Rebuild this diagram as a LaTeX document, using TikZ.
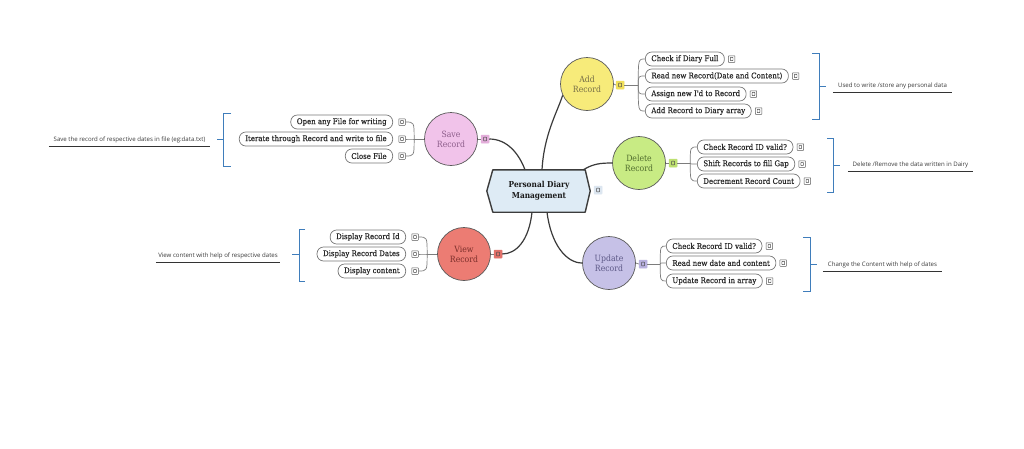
\documentclass[tikz,border=0pt]{standalone}
\usepackage{fontspec}
\setmainfont{DejaVu Serif Condensed}
\newfontfamily\leaffont{DejaVu Serif Condensed}[FakeBold=0.35]
\newfontfamily\notefont{Open Sans}
\usetikzlibrary{positioning,calc}

\definecolor{rootfill}{HTML}{DEEBF5}
\definecolor{rootline}{HTML}{3C3C3C}
\definecolor{addfill}{HTML}{F7EB7A}
\definecolor{addtext}{HTML}{746C46}
\definecolor{addico}{HTML}{F0DF5A}
\definecolor{delfill}{HTML}{C8EB84}
\definecolor{deltext}{HTML}{4E6B2C}
\definecolor{delico}{HTML}{BDE070}
\definecolor{updfill}{HTML}{C6C1E7}
\definecolor{updtext}{HTML}{5B5785}
\definecolor{updico}{HTML}{B8B0DF}
\definecolor{savefill}{HTML}{F1C3EA}
\definecolor{savetext}{HTML}{8B5C89}
\definecolor{saveico}{HTML}{E4AEDB}
\definecolor{viewfill}{HTML}{EC7C73}
\definecolor{viewtext}{HTML}{7A2E2A}
\definecolor{viewico}{HTML}{E2716A}
\definecolor{rootico}{HTML}{DCE6F0}
\definecolor{linedark}{HTML}{3A3A3A}
\definecolor{linegray}{HTML}{7C7C7C}
\definecolor{pillgray}{HTML}{777777}
\definecolor{textdark}{HTML}{2A2A2A}
\definecolor{brblue}{HTML}{3F7DBB}
\definecolor{notetext}{HTML}{3A3A3A}

\begin{document}
\begin{tikzpicture}[x=1pt,y=-1pt,
  mainline/.style={draw=linedark,line width=1.2pt},
  leafline/.style={draw=linegray,line width=.7pt},
  topic/.style={circle,draw=black!65,line width=.7pt,minimum size=53pt,inner sep=0pt,
    align=center,font=\fontsize{8.6}{10}\selectfont},
  pill/.style={draw=pillgray,line width=.7pt,rounded corners=6.5pt,minimum height=14pt,
    inner xsep=6pt,inner ysep=0pt,fill=white,text=textdark,font=\leaffont\fontsize{7.8}{9}\selectfont},
  leafico/.style={draw=black!65,line width=.5pt,rounded corners=.4pt,minimum size=6.5pt,inner sep=0pt,fill=white,
    path picture={\draw[black!70,line width=.45pt]
      ([xshift=-1.3pt,yshift=-1.6pt]path picture bounding box.center) rectangle
      ([xshift=1.3pt,yshift=1.6pt]path picture bounding box.center);}},
  topicico/.style={fill=#1,draw=#1,line width=.5pt,rounded corners=.6pt,minimum size=8pt,inner sep=0pt,
    path picture={\draw[black!70,line width=.5pt]
      ([xshift=-1.5pt,yshift=-1.8pt]path picture bounding box.center) rectangle
      ([xshift=1.5pt,yshift=1.8pt]path picture bounding box.center);}},
  bracket/.style={draw=brblue,line width=1pt},
  note/.style={font=\notefont\fontsize{6.1}{7}\selectfont,text=notetext,inner sep=0pt,minimum height=12pt},
  uline/.style={draw=black!80,line width=1.4pt}
]
\fill[white] (0,0) rectangle (1024,448);
\useasboundingbox (0,0) rectangle (1024,448);

% ---------- central topic (hexagon) ----------
\node[minimum width=92pt,minimum height=42pt,inner sep=0pt] (rootframe) at (539,191) {};
\filldraw[fill=rootfill,draw=rootline,line width=1.4pt,line join=round]
  (rootframe.north west) -- (rootframe.north east) -- ([xshift=5pt]rootframe.east)
  -- (rootframe.south east) -- (rootframe.south west) -- ([xshift=-6pt]rootframe.west) -- cycle;
\node[align=center,font=\bfseries\fontsize{8.2}{10.5}\selectfont,text=black!90] (root) at (rootframe.center)
  {Personal Diary\\Management};
\node[topicico=rootico] (rootI) at (598,190) {};

% ---------- main topics ----------
\node[topic,fill=addfill,text=addtext]   (aC) at (587,84)  {Add\\Record};
\node[topic,fill=delfill,text=deltext]   (dC) at (639,163) {Delete\\Record};
\node[topic,fill=updfill,text=updtext]   (uC) at (609,263) {Update\\Record};
\node[topic,fill=savefill,text=savetext] (sC) at (451,139) {Save\\Record};
\node[topic,fill=viewfill,text=viewtext] (vC) at (464,254) {View\\Record};

\node[topicico=addico]  (aI) at (620,85)  {};
\node[topicico=delico]  (dI) at (673,163) {};
\node[topicico=updico]  (uI) at (643,264) {};
\node[topicico=saveico] (sI) at (485,139) {};
\node[topicico=viewico] (vI) at (498,254) {};

% ---------- connectors from the central topic ----------
\coordinate (rSave) at ($(rootframe.north)+(-14,0)$);
\coordinate (rAdd)  at ($(rootframe.north)+(3,0)$);
\coordinate (rDel)  at ($(rootframe.north east)+(-2,0)$);
\coordinate (rView) at ($(rootframe.south)+(-7,0)$);
\coordinate (rUpd)  at ($(rootframe.south)+(8,0)$);
\draw[mainline] (sI.east) .. controls +(18,0) and +(-6,-16) .. (rSave);
\draw[mainline] (rAdd) .. controls +(2,-35) and +(-6,18) .. (aC.205);
\draw[mainline] (rDel) .. controls +(10,-6) and +(-12,0) .. (dC.west);
\draw[mainline] (rView) .. controls +(-3,28) and +(14,0) .. (vI.east);
\draw[mainline] (rUpd) .. controls +(4,32) and +(-16,0) .. (uC.west);

\draw[leafline] (aC.east) -- (aI.west);
\draw[leafline] (dC.east) -- (dI.west);
\draw[leafline] (uC.east) -- (uI.west);
\draw[leafline] (sC.east) -- (sI.west);
\draw[leafline] (vC.east) -- (vI.west);

% ---------- Add Record ----------
\node[pill,anchor=west] (a1) at (645,59)  {Check if Diary Full};
\node[pill,anchor=west] (a2) at (645,76)  {Read new Record(Date and Content)};
\node[pill,anchor=west] (a3) at (645,94)  {Assign new I'd to Record};
\node[pill,anchor=west] (a4) at (645,111) {Add Record to Diary array};
\foreach \i in {1,...,4}{\node[leafico,right=3.5pt of a\i] (a\i i) {};}
\coordinate (aJ) at ([xshift=14pt]aI.east);
\draw[leafline] (aI.east) -- (aJ);
\foreach \i in {1,...,4}{\draw[leafline] (aJ) .. controls (aJ |- a\i.west) .. (a\i.west);}

% ---------- Delete Record ----------
\node[pill,anchor=west] (d1) at (697,147) {Check Record ID valid?};
\node[pill,anchor=west] (d2) at (697,164) {Shift Records to fill Gap};
\node[pill,anchor=west] (d3) at (697,181) {Decrement Record Count};
\foreach \i in {1,...,3}{\node[leafico,right=3.5pt of d\i] (d\i i) {};}
\coordinate (dJ) at ([xshift=13pt]dI.east);
\draw[leafline] (dI.east) -- (dJ);
\foreach \i in {1,...,3}{\draw[leafline] (dJ) .. controls (dJ |- d\i.west) .. (d\i.west);}

% ---------- Update Record ----------
\node[pill,anchor=west] (u1) at (666,246) {Check Record ID valid?};
\node[pill,anchor=west] (u2) at (666,263) {Read new date and content};
\node[pill,anchor=west] (u3) at (666,281) {Update Record in array};
\foreach \i in {1,...,3}{\node[leafico,right=3.5pt of u\i] (u\i i) {};}
\coordinate (uJ) at ([xshift=13pt]uI.east);
\draw[leafline] (uI.east) -- (uJ);
\foreach \i in {1,...,3}{\draw[leafline] (uJ) .. controls (uJ |- u\i.west) .. (u\i.west);}

% ---------- Save Record ----------
\node[pill,anchor=east] (s1) at (393,122) {Open any File for writing};
\node[pill,anchor=east] (s2) at (393,139) {Iterate through Record and write to file};
\node[pill,anchor=east] (s3) at (393,156) {Close File};
\foreach \i in {1,...,3}{\node[leafico,right=5.5pt of s\i] (s\i i) {};}
\coordinate (sJ) at ([xshift=-10pt]sC.west);
\draw[leafline] (sC.west) -- (sJ);
\foreach \i in {1,...,3}{\draw[leafline] (sJ) .. controls (sJ |- s\i i.east) .. (s\i i.east);}

% ---------- View Record ----------
\node[pill,anchor=east] (v1) at (406,237) {Display Record Id};
\node[pill,anchor=east] (v2) at (406,254) {Display Record Dates};
\node[pill,anchor=east] (v3) at (406,271) {Display content};
\foreach \i in {1,...,3}{\node[leafico,right=5.5pt of v\i] (v\i i) {};}
\coordinate (vJ) at ([xshift=-10pt]vC.west);
\draw[leafline] (vC.west) -- (vJ);
\foreach \i in {1,...,3}{\draw[leafline] (vJ) .. controls (vJ |- v\i i.east) .. (v\i i.east);}

% ---------- summary brackets and notes ----------
\draw[bracket] (812,53) -- (819,53) -- (819,119) -- (812,119);
\draw[bracket] (819,86) -- (826,86);
\node[note,minimum width=119pt] (aN) at (892.5,86) {Used to write /store any personal data};
\draw[uline] (aN.south west) -- (aN.south east);

\draw[bracket] (827,138) -- (833,138) -- (833,192) -- (827,192);
\draw[bracket] (833,165) -- (840,165);
\node[note,minimum width=125pt] (dN) at (910.5,165) {Delete /Remove the data written in Dairy};
\draw[uline] (dN.south west) -- (dN.south east);

\draw[bracket] (803,237) -- (810,237) -- (810,291) -- (803,291);
\draw[bracket] (810,264) -- (817,264);
\node[note,minimum width=119pt] (uN) at (882.5,265) {Change the Content with help of dates};
\draw[uline] (uN.south west) -- (uN.south east);

\draw[bracket] (231,113) -- (223,113) -- (223,166) -- (231,166);
\draw[bracket] (223,139) -- (217,139);
\node[note,minimum width=161pt] (sN) at (129.5,140) {Save the record of respective dates in file (eg:data.txt)};
\draw[uline] (sN.south west) -- (sN.south east);

\draw[bracket] (305,229) -- (299,229) -- (299,281) -- (305,281);
\draw[bracket] (299,254) -- (292,254);
\node[note,minimum width=124pt] (vN) at (218,256) {View content with help of respective dates};
\draw[uline] (vN.south west) -- (vN.south east);
\end{tikzpicture}
\end{document}
